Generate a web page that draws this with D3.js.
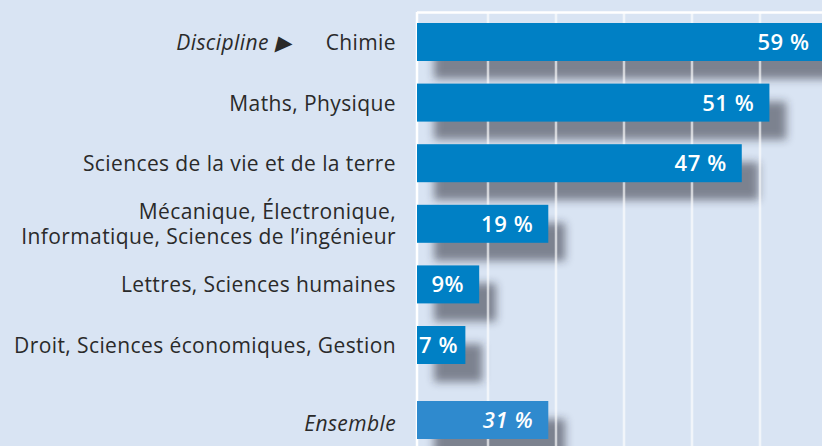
<!DOCTYPE html>
<html><head><meta charset="utf-8">
<script src="https://cdn.jsdelivr.net/npm/d3@7"></script>
<style>
html,body{margin:0;padding:0;background:#d9e4f3;}
svg{display:block;}
</style></head>
<body>
<svg id="chart" width="822" height="446"></svg>
<script>
// ---- data ----
const categories = [
  "Chimie",
  "Maths, Physique",
  "Sciences de la vie et de la terre",
  "Mécanique, Électronique,\nInformatique, Sciences de l’ingénieur",
  "Lettres, Sciences humaines",
  "Droit, Sciences économiques, Gestion",
  "Ensemble"
];
const values = [59, 51, 47, 19, 9, 7, 31];
const valueLabels = ["59 %", "51 %", "47 %", "19 %", "9%", "7 %", "31 %"];
// bar lengths as drawn in the source picture (the "Ensemble" bar is drawn as long as the 19 % bar)
const barLengths = [59, 51, 47, 19, 9, 7, 19];
const gridTicks = [1, 2, 3, 4, 5, 6];
const headerLabel = "Discipline ▶";

// ---- layout ----
const W = 822, H = 446;
const x0 = 417;
const svg = d3.select("#chart");
const x = d3.scaleLinear().domain([0, 10]).range([x0, x0 + 69.1]);
const gx = d3.scaleLinear().domain([0, 1]).range([420, 488]);
const yb = d3.scaleBand().domain(categories).range([23, 424.6]).paddingInner(0.373).paddingOuter(0);
const ensembleGap = 14.4;
const yPos = (c, i) => yb(c) + (c === "Ensemble" ? ensembleGap : 0);
const bh = yb.bandwidth();
const FONT = "'Open Sans', 'Noto Sans', sans-serif";

const defs = svg.append("defs");
const f = defs.append("filter").attr("id", "blur").attr("x", "-20%").attr("y", "-50%").attr("width", "140%").attr("height", "200%");
f.append("feGaussianBlur").attr("stdDeviation", 4.5);

svg.append("rect").attr("width", W).attr("height", H).attr("fill", "#d9e4f3");

// shadows
svg.append("g").selectAll("rect").data(categories).join("rect")
  .attr("x", x(0) + 17)
  .attr("y", (d, i) => yPos(d, i) + 18)
  .attr("width", (d, i) => x(barLengths[i]) - x(0))
  .attr("height", bh)
  .attr("fill", "#20242f")
  .attr("opacity", 0.5)
  .attr("filter", "url(#blur)");

// grid
const grid = svg.append("g");
grid.append("line").attr("x1", x0).attr("x2", W).attr("y1", 12.5).attr("y2", 12.5)
  .attr("stroke", "#ffffff").attr("stroke-width", 2.5);
grid.selectAll("line.v").data([0].concat(gridTicks)).join("line").attr("class", "v")
  .attr("x1", d => d === 0 ? x0 : gx(d)).attr("x2", d => d === 0 ? x0 : gx(d))
  .attr("y1", 12).attr("y2", H)
  .attr("stroke", "#ffffff").attr("stroke-width", 2.5)
  .attr("opacity", d => d === 0 ? 1 : 0.65);

// bars
svg.append("g").selectAll("rect").data(categories).join("rect")
  .attr("x", x(0))
  .attr("y", (d, i) => yPos(d, i))
  .attr("width", (d, i) => x(barLengths[i]) - x(0))
  .attr("height", bh)
  .attr("fill", d => d === "Ensemble" ? "#2f8ace" : "#0080c5");

// value labels
const vl = svg.append("g").selectAll("text").data(categories).join("text")
  .attr("y", (d, i) => yPos(d, i) + bh / 2 + 8)
  .attr("fill", "#ffffff")
  .attr("font-family", FONT)
  .attr("font-weight", 600)
  .attr("font-style", d => d === "Ensemble" ? "italic" : "normal")
  .attr("font-size", 22)
  .attr("letter-spacing", 0.6)
  .attr("text-anchor", "end")
  .text((d, i) => valueLabels[i]);
vl.each(function(d, i) {
  const w = this.getComputedTextLength();
  const end = Math.max(x(barLengths[i]) - 15, x0 + 2 + w);
  d3.select(this).attr("x", end);
});

// category labels
const cl = svg.append("g").selectAll("text").data(categories).join("text")
  .attr("text-anchor", "end")
  .attr("fill", "#2a2a2a")
  .attr("font-family", FONT)
  .attr("font-size", 21)
  .attr("letter-spacing", 0.4)
  .attr("font-style", d => d === "Ensemble" ? "italic" : "normal");
cl.each(function(d, i) {
  const lines = d.split("\n");
  const cy = yPos(d, i) + bh / 2 + (d === "Ensemble" ? 3 : 0);
  const lh = 25;
  const t = d3.select(this);
  lines.forEach((ln, k) => {
    t.append("tspan").attr("x", 396)
      .attr("y", cy + 8 + (k - (lines.length - 1) / 2) * lh)
      .text(ln);
  });
});

// header label
svg.append("text")
  .attr("x", 291).attr("y", yPos(categories[0], 0) + bh / 2 + 8)
  .attr("text-anchor", "end")
  .attr("fill", "#2a2a2a")
  .attr("font-family", FONT)
  .attr("font-size", 21)
  .attr("letter-spacing", 0.4)
  .attr("font-style", "italic")
  .text(headerLabel);
</script>
</body></html>
